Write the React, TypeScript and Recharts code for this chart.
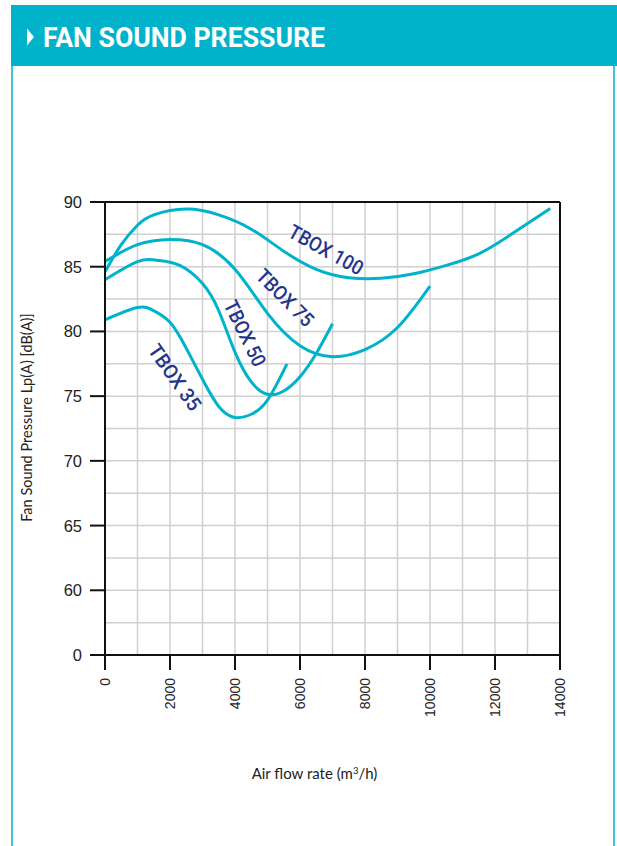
import React from "react";
import {
  LineChart,
  Line,
  XAxis,
  YAxis,
  CartesianGrid,
  ReferenceLine,
  ReferenceDot,
  Label,
} from "recharts";

// x = air flow (m3/h), y = Lp(A) dB(A); the axis is broken below 60, "0" sits where 55 would be
const xTicks = [0, 2000, 4000, 6000, 8000, 10000, 12000, 14000];
const yTicks = [55, 60, 65, 70, 75, 80, 85, 90];
const gridX = [1000, 2000, 3000, 4000, 5000, 6000, 7000, 8000, 9000, 10000, 11000, 12000, 13000];
const gridY = [57.5, 60, 62.5, 65, 67.5, 70, 72.5, 75, 77.5, 80, 82.5, 85, 87.5];

const tbox35 = [
  { x: 0, y: 80.9 },
  { x: 1000, y: 81.85 },
  { x: 1500, y: 81.6 },
  { x: 2000, y: 80.7 },
  { x: 2500, y: 78.7 },
  { x: 3000, y: 76.3 },
  { x: 3500, y: 74.2 },
  { x: 4000, y: 73.35 },
  { x: 4500, y: 73.6 },
  { x: 5000, y: 74.7 },
  { x: 5600, y: 77.5 },
];

const tbox50 = [
  { x: 0, y: 84.0 },
  { x: 1000, y: 85.4 },
  { x: 1600, y: 85.5 },
  { x: 2300, y: 85.1 },
  { x: 3000, y: 83.7 },
  { x: 3500, y: 81.6 },
  { x: 4000, y: 78.4 },
  { x: 4500, y: 76.1 },
  { x: 5000, y: 75.15 },
  { x: 5500, y: 75.4 },
  { x: 6000, y: 76.5 },
  { x: 6500, y: 78.3 },
  { x: 7000, y: 80.6 },
];

const tbox75 = [
  { x: 0, y: 85.4 },
  { x: 1000, y: 86.7 },
  { x: 2000, y: 87.1 },
  { x: 3000, y: 86.7 },
  { x: 4000, y: 84.8 },
  { x: 5000, y: 81.4 },
  { x: 6000, y: 78.9 },
  { x: 7000, y: 78.05 },
  { x: 8000, y: 78.6 },
  { x: 9000, y: 80.3 },
  { x: 10000, y: 83.5 },
];

const tbox100 = [
  { x: 0, y: 84.6 },
  { x: 500, y: 86.7 },
  { x: 1000, y: 88.2 },
  { x: 1500, y: 89.0 },
  { x: 2500, y: 89.45 },
  { x: 3500, y: 89.0 },
  { x: 4500, y: 87.9 },
  { x: 5500, y: 86.2 },
  { x: 6500, y: 84.8 },
  { x: 7500, y: 84.15 },
  { x: 8500, y: 84.1 },
  { x: 9500, y: 84.45 },
  { x: 10500, y: 85.1 },
  { x: 11500, y: 86.0 },
  { x: 12500, y: 87.5 },
  { x: 13700, y: 89.5 },
];

const curveLabels = [
  { name: "TBOX 100", x: 6800, y: 86.3, angle: 29, len: 82 },
  { name: "TBOX 75", x: 5540, y: 82.6, angle: 45, len: 72 },
  { name: "TBOX 50", x: 4310, y: 79.85, angle: 64, len: 71 },
  { name: "TBOX 35", x: 2150, y: 76.45, angle: 55, len: 76 },
];

const TEAL = "#00b3cb";
const NAVY = "#24358a";

const YTick = (props: any) => {
  const { x, y, payload } = props;
  return (
    <text x={x} y={y} dy={6} textAnchor="end" fontSize={16.5} fill="#222" fontFamily="Liberation Sans, Arial">
      {payload.value === 55 ? "0" : payload.value}
    </text>
  );
};

const XTick = (props: any) => {
  const { x, y, payload } = props;
  return (
    <text
      x={x}
      y={y}
      dy="0.35em"
      transform={`rotate(-90 ${x} ${y})`}
      textAnchor="end"
      fontSize={14}
      fill="#222"
      fontFamily="Liberation Sans, Arial"
    >
      {payload.value}
    </text>
  );
};

const curveLabel = (name: string, angle: number, len: number) => (props: any) => {
  const vb = props.viewBox || {};
  const cx = vb.x + (vb.width || 0) / 2;
  const cy = vb.y + (vb.height || 0) / 2;
  return (
    <text
      x={cx}
      y={cy}
      dy="0.35em"
      textAnchor="middle"
      transform={`rotate(${angle} ${cx} ${cy})`}
      fontSize={20}
      fontWeight={500}
      fill={NAVY}
      fontFamily="Roboto, Liberation Sans"
      textLength={len}
      lengthAdjust="spacingAndGlyphs"
    >
      {name}
    </text>
  );
};

export default function App() {
  return (
    <div style={{ position: "absolute", left: 0, top: 0, width: 617, height: 846, background: "#fff", overflow: "hidden" }}>
      <svg width={617} height={70} style={{ position: "absolute", left: 0, top: 0 }}>
        <rect x={11} y={5} width={606} height={61} fill={TEAL} />
        <path d="M27 28.5 L34 37 L27 45.5 Z" fill="#fff" />
        <text
          x={43}
          y={46.5}
          fontSize={27}
          fontWeight="bold"
          fill="#fff"
          fontFamily="Roboto, Liberation Sans"
          textLength={282}
          lengthAdjust="spacingAndGlyphs"
        >
          FAN SOUND PRESSURE
        </text>
      </svg>
      <div style={{ position: "absolute", left: 11, top: 66, width: 2, height: 780, background: "#3ec5d8" }} />
      <div style={{ position: "absolute", left: 613, top: 66, width: 2, height: 780, background: "#3ec5d8" }} />

      <LineChart
        width={617}
        height={846}
        margin={{ top: 202, right: 57, bottom: 121, left: 35 }}
        style={{ position: "absolute", left: 0, top: 0 }}
      >
        <CartesianGrid
          stroke="#d0d0d0"
          strokeWidth={1.5}
          horizontalValues={gridY}
          verticalValues={gridX}
        />
        <XAxis
          type="number"
          dataKey="x"
          domain={[0, 14000]}
          ticks={xTicks}
          interval={0}
          height={70}
          tickSize={15}
          tickMargin={8}
          stroke="#111"
          strokeWidth={2}
          tick={<XTick />}
          allowDataOverflow
        >
          <Label
            content={(p: any) => {
              const vb = p.viewBox;
              return (
                <text
                  x={vb.x + vb.width / 2 - 18}
                  y={779}
                  textAnchor="middle"
                  fontSize={15}
                  fill="#222"
                  fontFamily="Lato, Liberation Sans"
                >
                  Air flow rate (m
                  <tspan dy={-5} fontSize={9.5}>3</tspan>
                  <tspan dy={5}>/h)</tspan>
                </text>
              );
            }}
          />
        </XAxis>
        <YAxis
          type="number"
          domain={[55, 90]}
          ticks={yTicks}
          interval={0}
          width={70}
          tickSize={15}
          tickMargin={8}
          stroke="#111"
          strokeWidth={2}
          tick={<YTick />}
          allowDataOverflow
        >
          <Label
            content={(p: any) => {
              const vb = p.viewBox;
              const cx = vb.x - 3;
              const cy = vb.y + vb.height / 2 - 11;
              return (
                <text
                  x={cx}
                  y={cy}
                  transform={`rotate(-90 ${cx} ${cy})`}
                  textAnchor="middle"
                  fontSize={14.5}
                  fill="#222"
                  fontFamily="Lato, Liberation Sans"
                >
                  Fan Sound Pressure Lp(A) [dB(A)]
                </text>
              );
            }}
          />
        </YAxis>
        <ReferenceLine y={90} stroke="#111" strokeWidth={2} />
        <ReferenceLine x={14000} stroke="#111" strokeWidth={2} />

        <Line data={tbox35} dataKey="y" type="natural" stroke={TEAL} strokeWidth={3} dot={false} isAnimationActive={false} />
        <Line data={tbox50} dataKey="y" type="natural" stroke={TEAL} strokeWidth={3} dot={false} isAnimationActive={false} />
        <Line data={tbox75} dataKey="y" type="natural" stroke={TEAL} strokeWidth={3} dot={false} isAnimationActive={false} />
        <Line data={tbox100} dataKey="y" type="natural" stroke={TEAL} strokeWidth={3} dot={false} isAnimationActive={false} />

        {curveLabels.map((c) => (
          <ReferenceDot
            key={c.name}
            x={c.x}
            y={c.y}
            r={1}
            fill="none"
            stroke="none"
            label={curveLabel(c.name, c.angle, c.len)}
          />
        ))}
      </LineChart>
    </div>
  );
}
